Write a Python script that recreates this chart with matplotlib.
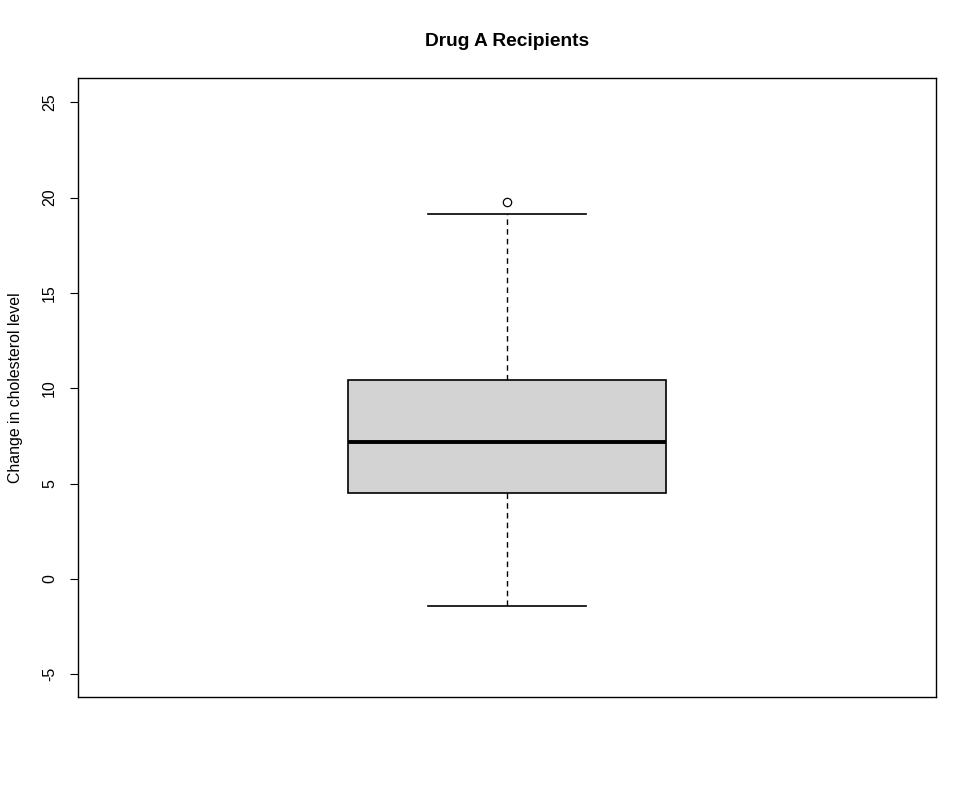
import matplotlib
matplotlib.use('Agg')
import matplotlib.pyplot as plt

plt.rcParams['font.family'] = ['Liberation Sans', 'DejaVu Sans']

# box statistics
q1 = 4.51
med = 7.18
q3 = 10.43
whisker_lo = -1.42
whisker_hi = 19.14
outliers = [19.77]
yticks = [-5, 0, 5, 10, 15, 20, 25]

fig = plt.figure(figsize=(9.77, 7.96), dpi=100)
ax = fig.add_axes([0.0798, 0.1244, 0.8782, 0.7776])

stats = [dict(med=med, q1=q1, q3=q3, whislo=whisker_lo, whishi=whisker_hi, fliers=outliers)]
ax.bxp(stats, positions=[1], widths=0.4, patch_artist=True,
       boxprops=dict(facecolor='#d3d3d3', edgecolor='black', linewidth=1.2),
       medianprops=dict(color='black', linewidth=2.8),
       whiskerprops=dict(color='black', linestyle=(0, (4, 3)), linewidth=1),
       capprops=dict(color='black', linewidth=1.2),
       capwidths=0.2,
       flierprops=dict(marker='o', markerfacecolor='white', markeredgecolor='black',
                       markersize=6, markeredgewidth=0.9))

ax.set_xlim(0.46, 1.54)
ax.set_ylim(-6.19, 26.27)
ax.set_xticks([])
ax.set_yticks(yticks)
ax.set_yticklabels([str(t) for t in yticks], rotation=90, va='center', fontsize=11.5)
ax.tick_params(axis='y', length=6, direction='out', pad=9)
for s in ax.spines.values():
    s.set_linewidth(1)

ax.set_ylabel('Change in cholesterol level', fontsize=11.4, labelpad=14)
fig.text(0.519, 0.948, 'Drug A Recipients', ha='center', va='center',
         fontsize=13.8, fontweight='bold')

fig.savefig('out.png', dpi=100)
